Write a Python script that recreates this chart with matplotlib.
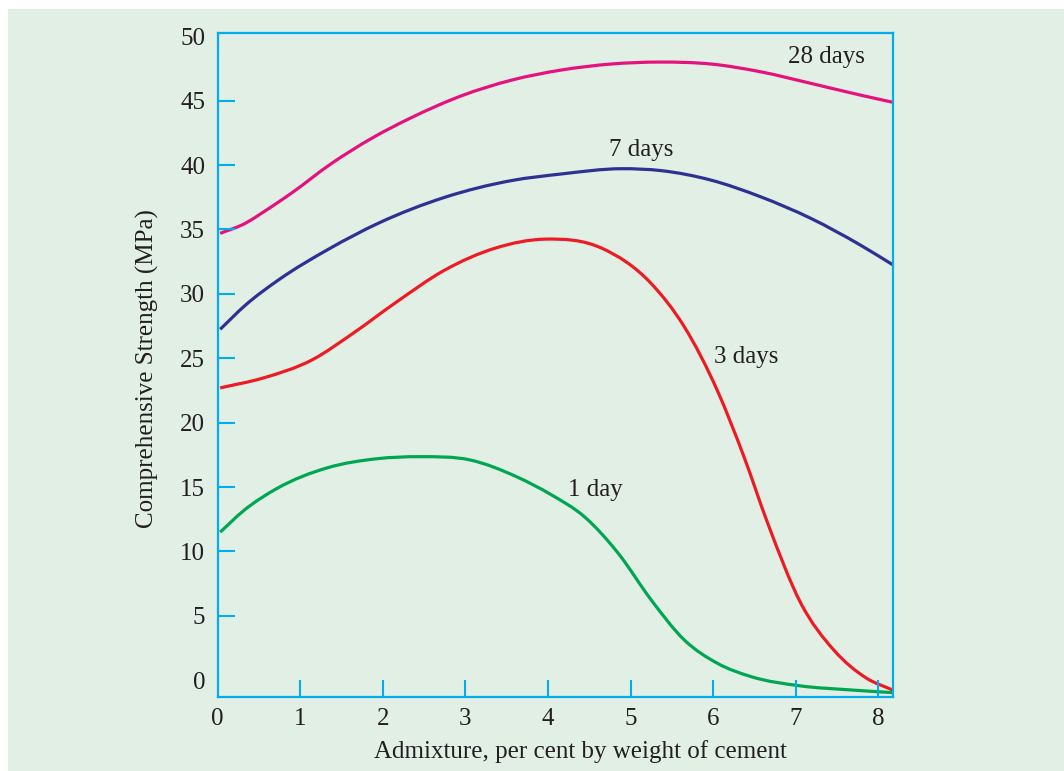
import numpy as np
import matplotlib
matplotlib.use("Agg")
import matplotlib.pyplot as plt
from matplotlib.patches import Rectangle, PathPatch
from matplotlib.path import Path

# ── Data ─────────────────────────────────────────────────────
x_28 = [0.03, 0.34, 0.54, 0.91, 1.35, 1.87, 2.35, 2.96, 3.56, 4.16, 4.77, 5.37, 5.97, 6.57, 7.18, 7.78, 8.18]
y_28 = [34.7, 35.5, 36.3, 37.9, 40.0, 42.1, 43.7, 45.4, 46.6, 47.38, 47.85, 48.0, 47.85, 47.25, 46.35, 45.44, 44.87]

x_7 = [0.03, 0.34, 0.74, 1.35, 1.95, 2.75, 3.56, 4.16, 4.89, 5.37, 5.97, 6.57, 7.18, 7.78, 8.18]
y_7 = [27.25, 29.15, 31.1, 33.5, 35.5, 37.5, 38.8, 39.31, 39.72, 39.57, 38.84, 37.55, 35.87, 33.8, 32.24]

x_3 = [0.03, 0.54, 1.15, 1.63, 2.15, 2.75, 3.36, 3.96, 4.65, 5.25, 5.65, 6.05, 6.37, 6.66, 7.06, 7.46, 7.86, 8.17]
y_3 = [22.7, 23.45, 24.9, 26.9, 29.3, 31.85, 33.55, 34.25, 33.55, 30.8, 27.45, 22.5, 17.4, 12.2, 6.0, 2.35, 0.15, -0.75]

x_1 = [0.03, 0.32, 0.72, 1.33, 1.93, 2.45, 3.06, 3.62, 4.04, 4.44, 4.85, 5.25, 5.65, 6.05, 6.46, 7.06, 7.66, 8.17]
y_1 = [11.5, 13.2, 14.9, 16.5, 17.2, 17.36, 17.1, 15.8, 14.4, 12.7, 9.86, 6.23, 3.13, 1.32, 0.28, -0.44, -0.75, -0.96]

series = [
    (x_28, y_28, "#e5127d", "28 days", (7.37, 48.4)),
    (x_7, y_7, "#2e3192", "7 days", (5.13, 41.2)),
    (x_3, y_3, "#ed1c24", "3 days", (6.40, 25.1)),
    (x_1, y_1, "#00a651", "1 day", (4.57, 14.8)),
]

x_ticks = [0, 1, 2, 3, 4, 5, 6, 7, 8]
y_ticks = [0, 5, 10, 15, 20, 25, 30, 35, 40, 45, 50]


def smooth_path(xs, ys):
    """Bezier path through the points (cubic Hermite, slopes from neighbours)."""
    x = np.asarray(xs, float)
    y = np.asarray(ys, float)
    h = np.diff(x)
    d = np.diff(y) / h
    m = np.empty_like(x)
    m[0], m[-1] = d[0], d[-1]
    m[1:-1] = (d[:-1] * h[1:] + d[1:] * h[:-1]) / (h[:-1] + h[1:])
    verts = [(x[0], y[0])]
    codes = [Path.MOVETO]
    for i in range(len(h)):
        verts += [(x[i] + h[i] / 3, y[i] + m[i] * h[i] / 3),
                  (x[i + 1] - h[i] / 3, y[i + 1] - m[i + 1] * h[i] / 3),
                  (x[i + 1], y[i + 1])]
        codes += [Path.CURVE4] * 3
    return Path(verts, codes)


# ── Style ────────────────────────────────────────────────────
bg = "#e2efe5"
axis_col = "#00aeef"
text_col = "#231f20"
plt.rcParams["font.family"] = ["Liberation Serif", "DejaVu Serif"]
plt.rcParams["text.color"] = text_col

fig = plt.figure(figsize=(10.64, 7.71), dpi=100, facecolor="white")
fig.patches.append(Rectangle((8 / 1064, 0), 1, 1 - 9 / 771, transform=fig.transFigure,
                             facecolor=bg, edgecolor="none", zorder=-10))

ax = fig.add_axes([217.7 / 1064, 74 / 771, 675.5 / 1064, 664.3 / 771])
ax.set_facecolor(bg)

for xs, ys, col, lab, pos in series:
    ax.add_patch(PathPatch(smooth_path(xs, ys), fill=False, edgecolor=col, lw=2.3,
                           capstyle="butt", clip_on=False))
    ax.text(pos[0], pos[1], lab, ha="center", va="center", fontsize=18, color=text_col)

ax.set_xlim(0.03, 8.18)
ax.set_ylim(-1.3, 50.28)
ax.set_xticks(x_ticks)
ax.set_yticks(y_ticks)

for sp in ax.spines.values():
    sp.set_color(axis_col)
    sp.set_linewidth(1.6)

ax.tick_params(axis="both", direction="in", length=12, width=1.5, color=axis_col,
               labelsize=18, labelcolor=text_col)
ax.tick_params(axis="y", pad=9)
ax.tick_params(axis="x", pad=8)

# no tick marks where they sit on the frame
ax.xaxis.get_major_ticks()[0].tick1line.set_visible(False)
ax.yaxis.get_major_ticks()[0].tick1line.set_visible(False)
ax.yaxis.get_major_ticks()[-1].tick1line.set_visible(False)

fig.text(147 / 1064, 1 - 369 / 771, "Comprehensive Strength (MPa)", rotation=90,
         ha="center", va="center", fontsize=18)
fig.text(580 / 1064, 1 - 752 / 771, "Admixture, per cent by weight of cement",
         ha="center", va="center", fontsize=18)

fig.savefig("out.png", dpi=100, facecolor=fig.get_facecolor())
